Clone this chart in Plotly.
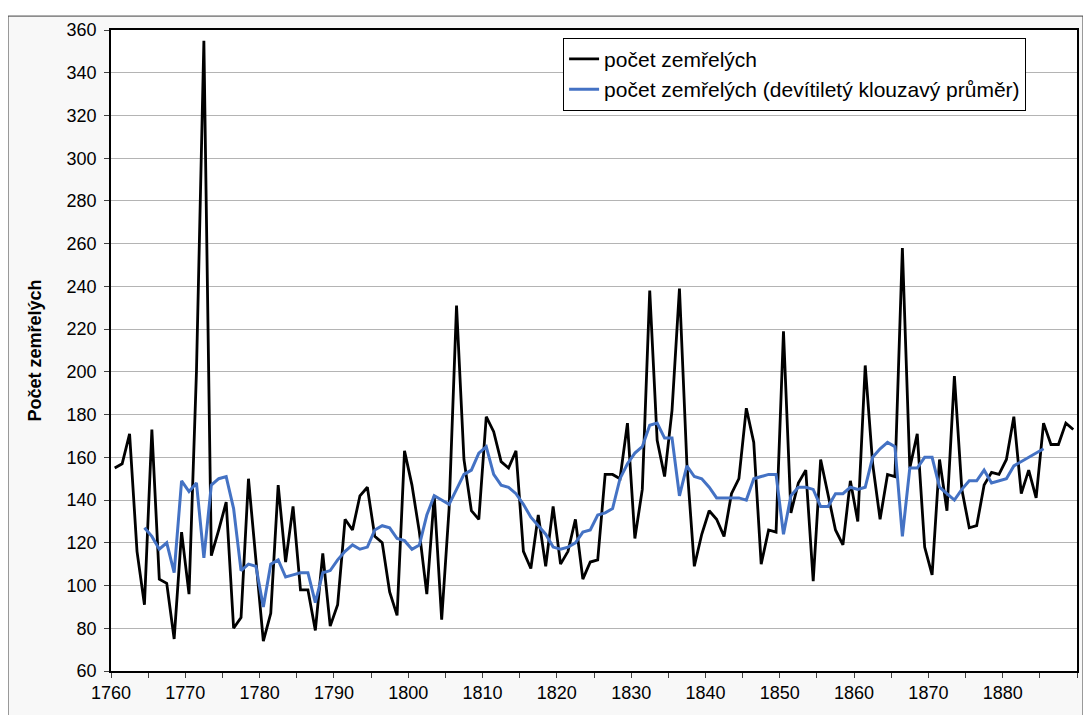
import plotly.graph_objects as go

# roky 1760-1889
years = list(range(1760, 1890))

# počet zemřelých
deaths = [
    155, 157, 171, 116, 91, 173, 103, 101, 75, 125,
    96, 200, 355, 114, 126, 139, 80, 85, 150, 110,
    74, 87, 147, 111, 137, 98, 98, 79, 115, 81,
    91, 131, 126, 142, 146, 123, 120, 97, 86, 163,
    147, 125, 96, 142, 84, 136, 231, 159, 135, 131,
    179, 172, 158, 155, 163, 116, 108, 133, 109, 137,
    110, 116, 131, 103, 111, 112, 152, 152, 150, 176,
    122, 145, 238, 168, 151, 182, 239, 157, 109, 124,
    135, 131, 123, 143, 150, 183, 167, 110, 126, 125,
    219, 134, 148, 154, 102, 159, 143, 126, 119, 149,
    130, 203, 157, 131, 152, 151, 258, 155, 171, 118,
    105, 159, 135, 198, 145, 127, 128, 147, 153, 152,
    159, 179, 143, 154, 141, 176, 166, 166, 176, 173,
]

# devítiletý klouzavý průměr (1764-1885)
moving_avg = [None] * 4 + [
    127, 123, 117, 120, 106, 149,
    144, 148, 113, 147, 150, 151, 136, 107, 110, 109,
    90, 110, 112, 104, 105, 106, 106, 92, 106, 107,
    112, 116, 119, 117, 118, 126, 128, 127, 122, 121,
    117, 119, 133, 142, 140, 138, 145, 152, 154, 162,
    165, 152, 147, 146, 143, 138, 132, 128, 124, 118,
    117, 118, 120, 125, 126, 133, 134, 136, 150, 157,
    162, 165, 175, 176, 169, 169, 142, 156, 151, 150,
    146, 141, 141, 141, 141, 140, 150, 151, 152, 152,
    124, 142, 146, 146, 145, 137, 137, 143, 143, 146,
    145, 146, 160, 164, 167, 165, 123, 155, 155, 160,
    160, 146, 143, 140, 145, 149, 149, 154, 148, 149,
    150, 156, 158, 160, 162, 164,
] + [None] * 4

label_years = list(range(1760, 1890, 10))
minor_years = list(range(1760, 1895, 5))

FONT = "Liberation Sans, Arial, sans-serif"


def build_figure():
    fig = go.Figure()

    fig.add_trace(go.Scatter(
        name="počet zemřelých",
        x=years,
        y=deaths,
        mode="lines",
        line=dict(color="black", width=2.8),
        legendgroup="a",
    ))

    fig.add_trace(go.Scatter(
        name="počet zemřelých (devítiletý klouzavý průměr)",
        x=years,
        y=moving_avg,
        mode="lines",
        line=dict(color="#4472c4", width=3),
        legendgroup="b",
    ))

    # rámeček grafu a bílá plocha
    fig.add_shape(type="rect", xref="paper", yref="paper",
                  x0=-0.1066, x1=1.0062, y0=-0.2, y1=1.0217,
                  fillcolor="#f8f8f8", line=dict(color="#404040", width=1),
                  layer="below")
    fig.add_shape(type="rect", xref="paper", yref="paper",
                  x0=0, x1=1, y0=0, y1=1,
                  fillcolor="white", line=dict(width=0),
                  layer="below")

    # stránka má okraj 8 px, proto je obrázek o 8 px menší
    fig.update_layout(
        width=1083,
        height=707,
        margin=dict(l=103, r=14, t=20, b=43),
        paper_bgcolor="white",
        plot_bgcolor="white",
        font=dict(family=FONT, size=18, color="black"),
        showlegend=True,
        legend=dict(
            x=0.468, y=0.988, xanchor="left", yanchor="top",
            bgcolor="white", bordercolor="black", borderwidth=1,
            font=dict(size=21),
            traceorder="grouped", tracegroupgap=0,
        ),
        xaxis=dict(
            range=[1759.5, 1889.5],
            tickmode="array",
            tickvals=[y - 0.5 for y in label_years],
            ticktext=[str(y) for y in label_years],
            ticks="outside", ticklen=5, tickcolor="#404040",
            minor=dict(tickmode="array",
                       tickvals=[y - 0.5 for y in minor_years],
                       ticks="outside", ticklen=5, tickcolor="#404040"),
            showgrid=False,
            showline=True, linecolor="black", linewidth=1.5, mirror=True,
            zeroline=False,
        ),
        yaxis=dict(
            range=[60, 360],
            dtick=20,
            ticks="outside", ticklen=5, tickcolor="#404040",
            ticklabelstandoff=4,
            showgrid=True, gridcolor="#b4b4b4", gridwidth=1,
            showline=True, linecolor="black", linewidth=1.5, mirror=True,
            zeroline=False,
            title=dict(text="<b>Počet zemřelých</b>", font=dict(size=18),
                       standoff=20),
        ),
    )

    return fig


fig = build_figure()
fig.write_html("out.html")
